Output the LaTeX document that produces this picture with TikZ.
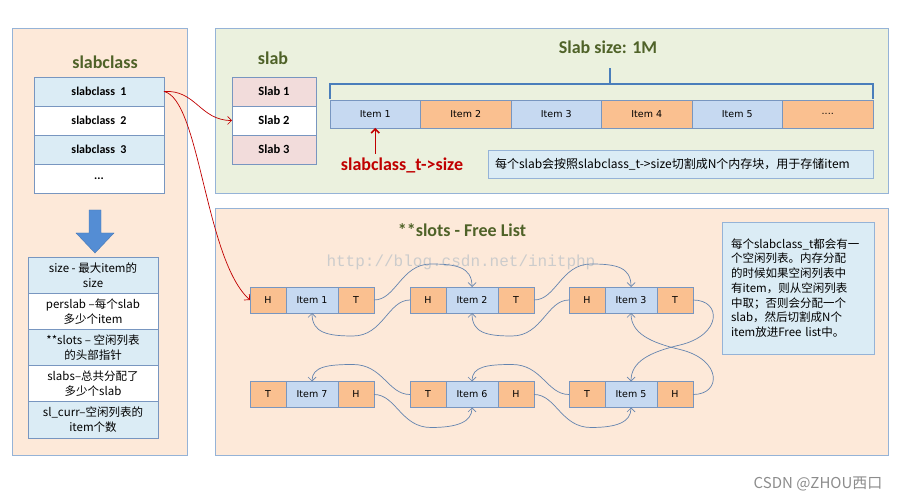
\documentclass[tikz,border=0pt]{standalone}
\usepackage{fontspec}
\setmainfont{Carlito}
\newfontfamily\cjk{Noto Sans CJK SC}
\newfontfamily\vfont{DejaVu Sans}
\newfontfamily\wmfont{Liberation Mono}
\usetikzlibrary{arrows.meta,positioning}

\definecolor{peach}{RGB}{253,233,217}
\definecolor{sage}{RGB}{235,241,222}
\definecolor{panelline}{RGB}{149,179,215}
\definecolor{cellline}{RGB}{120,150,192}
\definecolor{rowblue}{RGB}{219,236,245}
\definecolor{itemblue}{RGB}{198,217,241}
\definecolor{orangecell}{RGB}{250,192,144}
\definecolor{pinkcell}{RGB}{242,220,219}
\definecolor{olive}{RGB}{79,98,40}
\definecolor{darkred}{RGB}{192,0,0}
\definecolor{bracecol}{RGB}{74,126,187}
\definecolor{arrowblue}{RGB}{84,141,212}
\definecolor{linkcol}{RGB}{100,132,175}

\tikzset{
	panel/.style={fill=#1, draw=panelline, line width=0.8pt},
	paneltitle/.style={font=\bfseries\fontsize{18}{21}\selectfont, text=olive},
	boxcell/.style={draw=cellline, line width=0.6pt, inner sep=0pt, outer sep=0pt},
	classrow/.style={boxcell, minimum width=130pt, minimum height=29pt, font=\bfseries\fontsize{12}{14}\selectfont},
	fieldrow/.style={boxcell, minimum width=130pt, minimum height=36.2pt, align=center, font=\cjk\fontsize{11.5}{15}\selectfont},
	slabrow/.style={boxcell, minimum width=84pt, minimum height=29pt, font=\bfseries\fontsize{12.5}{14}\selectfont},
	itembox/.style={boxcell, minimum width=90.5pt, minimum height=28pt, font=\vfont\fontsize{9.5}{11}\selectfont},
	endcell/.style={boxcell, fill=orangecell, minimum width=36pt, minimum height=26pt, font=\vfont\fontsize{9.5}{11}\selectfont},
	midcell/.style={boxcell, fill=itemblue, minimum width=52pt, minimum height=26pt, font=\vfont\fontsize{9.5}{11}\selectfont},
	notebox/.style={boxcell, draw=panelline, fill=rowblue, align=left, font=\cjk\fontsize{11.5}{14.7}\selectfont},
	listlink/.style={->, draw=linkcol, line width=0.7pt},
	redlink/.style={->, draw=darkred, line width=0.7pt},
}

\begin{document}
\begin{tikzpicture}[x=1pt, y=1pt, >={Straight Barb[length=4pt,width=8pt]}]
	\useasboundingbox (0,0) rectangle (899,500);
	% panels
	\draw[panel=peach] (12,45) rectangle (187,472);
	\draw[panel=sage] (215,307) rectangle (888,472);
	\draw[panel=peach] (215,45) rectangle (888,292);

	% slabclass column
	\node[paneltitle] (classtitle) at (105,438) {slabclass};
	\node[classrow, fill=rowblue] (sc1) at (99,408.5) {slabclass\ \ 1};
	\node[classrow, fill=white, below=0pt of sc1] (sc2) {slabclass\ \ 2};
	\node[classrow, fill=rowblue, below=0pt of sc2] (sc3) {slabclass\ \ 3};
	\node[classrow, fill=white, below=0pt of sc3] (sc4) {...};
	\filldraw[fill=arrowblue, draw=arrowblue!85!black, line width=0.4pt] (89,290) -- (101,290) -- (101,267) -- (114,267) -- (95,247) -- (76,267) -- (89,267) -- cycle;
	\node[fieldrow, fill=rowblue] (f1) at (93,225) {size -\ 最大item的\\size};
	\node[fieldrow, fill=white, below=0pt of f1] (f2) {perslab –每个slab\\多少个item};
	\node[fieldrow, fill=rowblue, below=0pt of f2] (f3) {**slots – 空闲列表\\的头部指针};
	\node[fieldrow, fill=white, below=0pt of f3] (f4) {slabs–总共分配了\\多少个slab};
	\node[fieldrow, fill=rowblue, below=0pt of f4] (f5) {sl\_curr–空闲列表的\\item个数};

	% slab panel
	\node[paneltitle] (slabtitle) at (273,442) {slab};
	\node[slabrow, fill=pinkcell] (slab1) at (274,408.5) {Slab 1};
	\node[slabrow, fill=white, below=0pt of slab1] (slab2) {Slab 2};
	\node[slabrow, fill=pinkcell, below=0pt of slab2] (slab3) {Slab 3};
	\node[paneltitle] (sizetitle) at (608,453) {Slab size: 1M};
	\node[itembox, fill=itemblue] (it1) at (375.25,386) {Item 1};
	\node[itembox, fill=orangecell, right=0pt of it1] (it2) {Item 2};
	\node[itembox, fill=itemblue, right=0pt of it2] (it3) {Item 3};
	\node[itembox, fill=orangecell, right=0pt of it3] (it4) {Item 4};
	\node[itembox, fill=itemblue, right=0pt of it4] (it5) {Item 5};
	\node[itembox, fill=orangecell, right=0pt of it5] (it6) {....};
	\draw[bracecol, line width=2.5pt] ([yshift=1pt]it1.north west) |- ([yshift=16pt]it6.north east) -- ([yshift=1pt]it6.north east);
	\draw[bracecol, line width=2.5pt] (610,416) -- (610,432);
	\node[font=\bfseries\fontsize{18}{21}\selectfont, text=darkred] (sizelbl) at (402,335) {slabclass\_t->size};
	\draw[->, darkred, line width=1.5pt] (it1.south |- sizelbl.north) -- (it1.south);
	\node[notebox, anchor=west, text width=371pt, inner xsep=7pt, minimum height=28pt, font=\cjk\fontsize{12}{14}\selectfont] (note1) at (488,336) {每个slab会按照slabclass\_t->size切割成N个内存块，用于存储item};

	% free list panel
	\node[paneltitle] (freetitle) at (462,270) {**slots - Free List};
	\node[anchor=west, font=\wmfont\fontsize{16}{18}\selectfont, text=black!20] (wmark) at (323,238) {http://blog.csdn.net/initphp};

	\node[endcell] (h1) at (268,200) {H};
	\node[midcell, right=0pt of h1] (i1) {Item 1};
	\node[endcell, right=0pt of i1] (t1) {T};
	\node[endcell] (h2) at (428,200) {H};
	\node[midcell, right=0pt of h2] (i2) {Item 2};
	\node[endcell, right=0pt of i2] (t2) {T};
	\node[endcell] (h3) at (587,200) {H};
	\node[midcell, right=0pt of h3] (i3) {Item 3};
	\node[endcell, right=0pt of i3] (t3) {T};

	\node[endcell] (t7) at (268,105.5) {T};
	\node[midcell, right=0pt of t7] (i7) {Item 7};
	\node[endcell, right=0pt of i7] (h7) {H};
	\node[endcell] (t6) at (428,105.5) {T};
	\node[midcell, right=0pt of t6] (i6) {Item 6};
	\node[endcell, right=0pt of i6] (h6) {H};
	\node[endcell] (t5) at (587,105.5) {T};
	\node[midcell, right=0pt of t5] (i5) {Item 5};
	\node[endcell, right=0pt of i5] (h5) {H};

	% next / prev links
	\draw[listlink] (t1.east) .. controls +(22,0) and +(-30,0) .. ++(57,36) .. controls +(25,0) and +(0,20) .. (i2.north);
	\draw[listlink] (h2.west) .. controls +(-22,0) and +(30,0) .. ++(-57,-36) .. controls +(-25,0) and +(0,-20) .. (i1.south);
	\draw[listlink] (t2.east) .. controls +(22,0) and +(-30,0) .. ++(57,36) .. controls +(25,0) and +(0,20) .. (i3.north);
	\draw[listlink] (h3.west) .. controls +(-22,0) and +(30,0) .. ++(-57,-36) .. controls +(-25,0) and +(0,-20) .. (i2.south);
	\draw[listlink] (t3.east) .. controls +(29,0) and +(42,10) .. ++(-13,-45) .. controls +(-30,-7) and +(0,20) .. (i5.north);
	\draw[listlink] (h5.east) .. controls +(29,0) and +(42,-10) .. ++(-13,45) .. controls +(-30,7) and +(0,-20) .. (i3.south);
	\draw[listlink] (t5.west) .. controls +(-22,0) and +(30,0) .. ++(-57,30) .. controls +(-25,0) and +(0,15) .. (i6.north);
	\draw[listlink] (t6.west) .. controls +(-22,0) and +(30,0) .. ++(-57,30) .. controls +(-25,0) and +(0,15) .. (i7.north);
	\draw[listlink] (h7.east) .. controls +(22,0) and +(-30,0) .. ++(57,-33) .. controls +(25,0) and +(0,-15) .. (i6.south);
	\draw[listlink] (h6.east) .. controls +(22,0) and +(-30,0) .. ++(57,-33) .. controls +(25,0) and +(0,-15) .. (i5.south);

	% slabclass pointers
	\draw[redlink] (sc1.east) .. controls +(32,2) and +(-32,0) .. (slab2.west);
	\draw[redlink] (sc1.east) .. controls +(36,-8) and +(-45,40) .. (h1.west);

	\node[notebox, text width=134pt, inner xsep=9pt, minimum height=132pt] (note2) at (798,212) {每个slabclass\_t都会有一\\个空闲列表。内存分配\\的时候如果空闲列表中\\有item，则从空闲列表\\中取；否则会分配一个\\slab，然后切割成N个\\item放进Free list中。};

	\node[font=\cjk\fontsize{15}{18}\selectfont, text=black!45] (credit) at (818,16) {CSDN @ZHOU西口};
\end{tikzpicture}
\end{document}
